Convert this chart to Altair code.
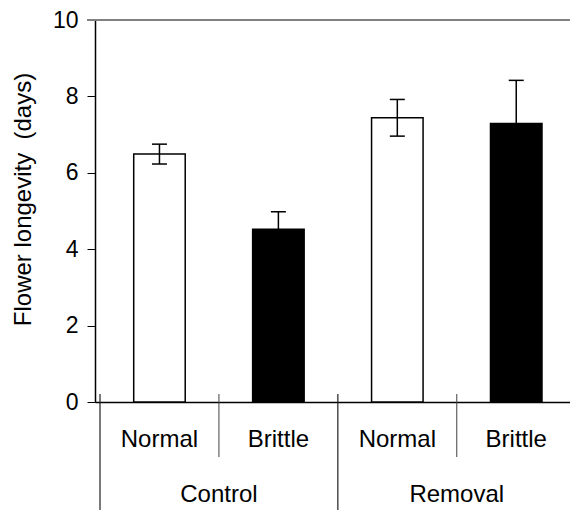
import altair as alt
import pandas as pd

# ---- data ----
treatment = ["Control", "Control", "Removal", "Removal"]
flower = ["Normal", "Brittle", "Normal", "Brittle"]
longevity = [6.49, 4.52, 7.44, 7.29]
error = [0.26, 0.46, 0.48, 1.13]
y_ticks = [0, 2, 4, 6, 8, 10]

FONT = "Liberation Sans"

df = pd.DataFrame({
    "treatment": treatment,
    "flower": flower,
    "mean": longevity,
    "err": error,
})
df["pos"] = [i + 0.5 for i in range(len(df))]
df["lo"] = df["mean"] - df["err"]
df["hi"] = df["mean"] + df["err"]

# category boundaries (left edge of each band)
bounds = pd.DataFrame({
    "edge": [float(i) for i in range(len(df))],
    "group_start": [i == 0 or treatment[i] != treatment[i - 1] for i in range(len(df))],
})

xscale = alt.Scale(domain=[0, 3.91], nice=False, zero=False)
yscale = alt.Scale(domain=[0, 10], nice=False)

base = alt.Chart(df)

bars = base.mark_bar(size=51.5, stroke="black", strokeWidth=1.5).encode(
    x=alt.X("pos:Q", scale=xscale,
            axis=alt.Axis(labels=False, ticks=False, title=None, grid=False,
                          domainColor="black", domainWidth=1.5)),
    y=alt.Y("mean:Q", scale=yscale,
            axis=alt.Axis(values=y_ticks, grid=False,
                          title="Flower longevity\u00a0\u00a0(days)",
                          domainColor="black", domainWidth=1.5,
                          tickColor="black", tickSize=8, tickWidth=1,
                          labelFont=FONT, labelFontSize=23, labelColor="black",
                          labelPadding=9,
                          titleFont=FONT, titleFontSize=24, titleFontWeight="normal",
                          titleColor="black", titleAngle=270, titleAlign="center",
                          titleBaseline="alphabetic", titleX=-65, titleY=179)),
    color=alt.Color("flower:N", scale=alt.Scale(domain=["Normal", "Brittle"],
                                                range=["white", "black"]), legend=None),
)

top_line = alt.Chart(df).mark_rule(color="#808080", strokeWidth=1.5).encode(
    y=alt.datum(10, scale=yscale),
    x=alt.value(-8), x2=alt.value(475),
)

err_rule = base.mark_rule(color="black", strokeWidth=1.5).encode(
    x=alt.X("pos:Q", scale=xscale), y=alt.Y("lo:Q", scale=yscale), y2="hi:Q",
)
cap_hi = base.mark_rule(color="black", strokeWidth=1.5, xOffset=-7.5, x2Offset=7.5).encode(
    x=alt.X("pos:Q", scale=xscale), x2="pos:Q",
    y=alt.Y("hi:Q", scale=yscale),
)
cap_lo = base.mark_rule(color="black", strokeWidth=1.5, xOffset=-7.5, x2Offset=7.5).encode(
    x=alt.X("pos:Q", scale=xscale), x2="pos:Q",
    y=alt.Y("lo:Q", scale=yscale),
)

sub_labels = base.mark_text(font=FONT, fontSize=24, baseline="alphabetic",
                            align="center", color="black").encode(
    x=alt.X("pos:Q", scale=xscale), y=alt.value(426.7), text="flower:N",
)

group_labels = base.transform_aggregate(
    gpos="mean(pos)", groupby=["treatment"]
).mark_text(font=FONT, fontSize=24, baseline="alphabetic", align="center",
            color="black").encode(
    x=alt.X("gpos:Q", scale=xscale), y=alt.value(481.7), text="treatment:N",
)

short_div = alt.Chart(bounds).transform_filter("!datum.group_start").mark_rule(
    color="#404040", strokeWidth=1).encode(
    x=alt.X("edge:Q", scale=xscale), y=alt.value(374), y2=alt.value(437),
)
long_div = alt.Chart(bounds).transform_filter("datum.group_start").mark_rule(
    color="#202020", strokeWidth=1.2).encode(
    x=alt.X("edge:Q", scale=xscale), y=alt.value(374), y2=alt.value(490),
)

chart = alt.layer(
    bars, err_rule, cap_hi, cap_lo, top_line, sub_labels, group_labels,
    short_div, long_div,
).properties(
    width=475, height=382,
    autosize=alt.AutoSizeParams(type="none"),
    padding={"left": 95, "top": 20, "right": 0, "bottom": 108},
    background="white",
).configure_view(stroke=None)

chart.save("out.html", embed_options={"renderer": "svg", "actions": False})
